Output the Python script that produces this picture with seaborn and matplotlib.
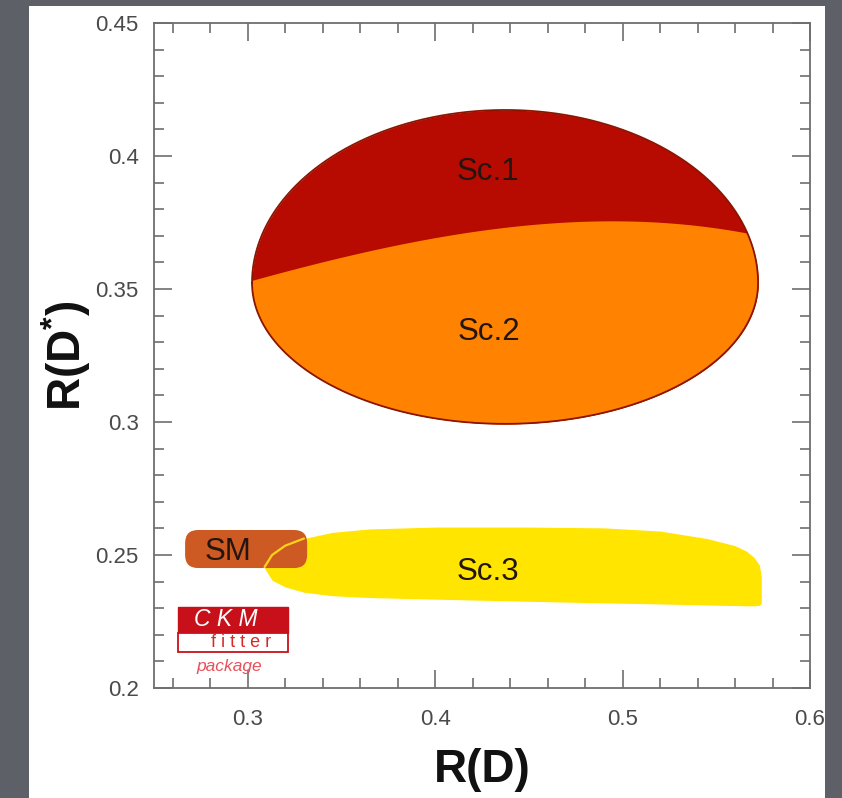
import numpy as np
import pandas as pd
import matplotlib
matplotlib.use("Agg")
import matplotlib.pyplot as plt
import seaborn as sns
from matplotlib.patches import Rectangle, FancyBboxPatch

# ---------------- data ----------------
# Combined Sc.1 + Sc.2 contour (egg shape: different upper / lower half heights)
ell_center_x = 0.4373
ell_center_y = 0.3523
ell_half_x = 0.1350
ell_half_y_up = 0.0650
ell_half_y_down = 0.0530
# Boundary between Sc.1 (above) and Sc.2 (below)
split_x = [0.3000, 0.3028, 0.3477, 0.3818, 0.4240, 0.4811, 0.5382, 0.5659, 0.5750]
split_y = [0.3525, 0.3534, 0.3620, 0.3673, 0.3714, 0.3748, 0.3752, 0.3714, 0.3690]

# Sc.3 region: upper and lower edges
sc3_x = [0.309, 0.313, 0.320, 0.330, 0.345, 0.365, 0.400, 0.450, 0.490, 0.520, 0.545, 0.560, 0.566, 0.570, 0.573, 0.574]
sc3_top = [0.2455, 0.2500, 0.2535, 0.2562, 0.2585, 0.2598, 0.2605, 0.2605, 0.2602, 0.2590, 0.2562, 0.2535, 0.2515, 0.2492, 0.2462, 0.2420]
sc3_bot = [0.2450, 0.2405, 0.2380, 0.2360, 0.2347, 0.2340, 0.2334, 0.2326, 0.2320, 0.2316, 0.2312, 0.2310, 0.2309, 0.2309, 0.2311, 0.2318]

# SM region (x range, y range)
sm_x = [0.2666, 0.3317]
sm_y = [0.2451, 0.2594]

# Region labels
label_text = ["Sc.1", "Sc.2", "Sc.3", "SM"]
label_x = [0.4282, 0.4288, 0.4282, 0.2895]
label_y = [0.3940, 0.3340, 0.2436, 0.2511]

x_ticks = [0.3, 0.4, 0.5, 0.6]
x_ticklabels = ["0.3", "0.4", "0.5", "0.6"]
y_ticks = [0.2, 0.25, 0.3, 0.35, 0.4, 0.45]
y_ticklabels = ["0.2", "0.25", "0.3", "0.35", "0.4", "0.45"]

# ---------------- style ----------------
sns.set_theme(style="ticks")
plt.rcParams["font.family"] = ["Liberation Sans", "DejaVu Sans"]
plt.rcParams["mathtext.default"] = "regular"

C_SC1 = "#b70b02"
C_SC2 = "#ff8200"
C_SC3 = "#ffe500"
C_SM = "#cc5a22"
C_EDGE = "#8a1500"
C_TXT = "#231510"
C_GREY = "#4a4a4a"

fig = plt.figure(figsize=(8.42, 7.98), dpi=100)
fig.patch.set_facecolor("#5e6067")
fig.patches.append(Rectangle((29 / 842, 0), (825 - 29) / 842, 1 - 6 / 798,
                             transform=fig.transFigure, facecolor="white",
                             edgecolor="none", zorder=-10))
ax = fig.add_axes([154 / 842, 1 - 688 / 798, (810 - 154) / 842, (688 - 23) / 798])
ax.set_facecolor("white")

# ---------------- contour Sc.1 / Sc.2 ----------------
t = np.linspace(np.pi, 0, 800)
ex = ell_center_x + ell_half_x * np.cos(t)
e_top = ell_center_y + ell_half_y_up * np.sin(t)
e_bot = ell_center_y - ell_half_y_down * np.sin(t)
ax.fill_between(ex, e_bot, e_top, color=C_SC1, linewidth=0, zorder=2)
# smooth boundary through the read points
coef = np.polyfit(split_x, split_y, 3)
split_smooth = np.polyval(coef, ex)
sc2_top = np.minimum(split_smooth, e_top)
sc2_top = np.maximum(sc2_top, e_bot)
ax.fill_between(ex, e_bot, sc2_top, color=C_SC2, linewidth=0, zorder=3)

outline = pd.DataFrame({"x": np.concatenate([ex, ex[::-1]]),
                        "y": np.concatenate([e_top, e_bot[::-1]])})
outline = pd.concat([outline, outline.iloc[:1]], ignore_index=True)
sns.lineplot(data=outline, x="x", y="y", sort=False, estimator=None,
             color=C_EDGE, linewidth=1.3, ax=ax, zorder=4)

# ---------------- Sc.3 ----------------
sc3 = pd.DataFrame({"x": sc3_x, "top": sc3_top, "bot": sc3_bot})
ax.fill_between(sc3["x"], sc3["bot"], sc3["top"], color=C_SC3, linewidth=0, zorder=2)

# ---------------- SM ----------------
rad_px = 13
x_per_px = (0.6 - 0.25) / (810 - 154)
y_per_px = (0.45 - 0.2) / (688 - 23)
sm = FancyBboxPatch((sm_x[0], sm_y[0]), sm_x[1] - sm_x[0], sm_y[1] - sm_y[0],
                    boxstyle=f"round,pad=0,rounding_size={rad_px * x_per_px}",
                    mutation_aspect=y_per_px / x_per_px,
                    facecolor=C_SM, edgecolor="none", zorder=5)
ax.add_patch(sm)
inside = sc3[sc3["x"] <= sm_x[1]]
sns.lineplot(data=inside, x="x", y="top", sort=False, estimator=None,
             color="#ffd21a", linewidth=1.6, ax=ax, zorder=6)

# ---------------- labels ----------------
for s, lx, ly in zip(label_text, label_x, label_y):
    ax.text(lx, ly, s, ha="center", va="center", fontsize=22.5, color=C_TXT, zorder=8)

# ---------------- CKMfitter logo ----------------
lx0, lx1 = 0.2629, 0.3216
ax.add_patch(Rectangle((lx0, 0.2207), lx1 - lx0, 0.0098, facecolor="#c8101a",
                       edgecolor="#c8101a", linewidth=1, zorder=7))
ax.add_patch(Rectangle((lx0, 0.2134), lx1 - lx0, 0.0073, facecolor="white",
                       edgecolor="#c8101a", linewidth=1.3, zorder=7))
ax.text((lx0 + lx1) / 2 - 0.004, 0.2257, "C K M", ha="center", va="center",
        fontsize=16.5, style="italic", color="white", zorder=8)
ax.text((lx0 + lx1) / 2 + 0.004, 0.2170, "f i t t e r", ha="center", va="center",
        fontsize=13, color="#d42a2a", zorder=8)
ax.text((lx0 + lx1) / 2 - 0.002, 0.2080, "package", ha="center", va="center",
        fontsize=12.5, style="italic", color="#e8505a", zorder=8)

# ---------------- axes ----------------
ax.set_xlim(0.25, 0.6)
ax.set_ylim(0.2, 0.45)
ax.set_xticks(x_ticks)
ax.set_xticklabels(x_ticklabels)
ax.set_yticks(y_ticks)
ax.set_yticklabels(y_ticklabels)
ax.set_xticks(np.arange(0.26, 0.6, 0.02), minor=True)
ax.set_yticks(np.arange(0.21, 0.45, 0.01), minor=True)
ax.tick_params(which="both", direction="in", top=True, right=True,
               color="#6e6e6e", width=1.2, labelcolor=C_GREY, labelsize=16)
ax.tick_params(which="major", length=13)
ax.tick_params(which="minor", length=7)
ax.tick_params(axis="x", pad=15)
ax.tick_params(axis="y", pad=11)
for sp in ax.spines.values():
    sp.set_visible(True)
    sp.set_color("#6e6e6e")
    sp.set_linewidth(1.3)

ax.set_xlabel("R(D)", fontsize=33, fontweight="bold", color="#111111", labelpad=13)
ax.set_ylabel(r"R(D$^{*}$)", fontsize=33, fontweight="bold", color="#111111", labelpad=2)

fig.savefig("out.png", dpi=100, facecolor=fig.get_facecolor())
